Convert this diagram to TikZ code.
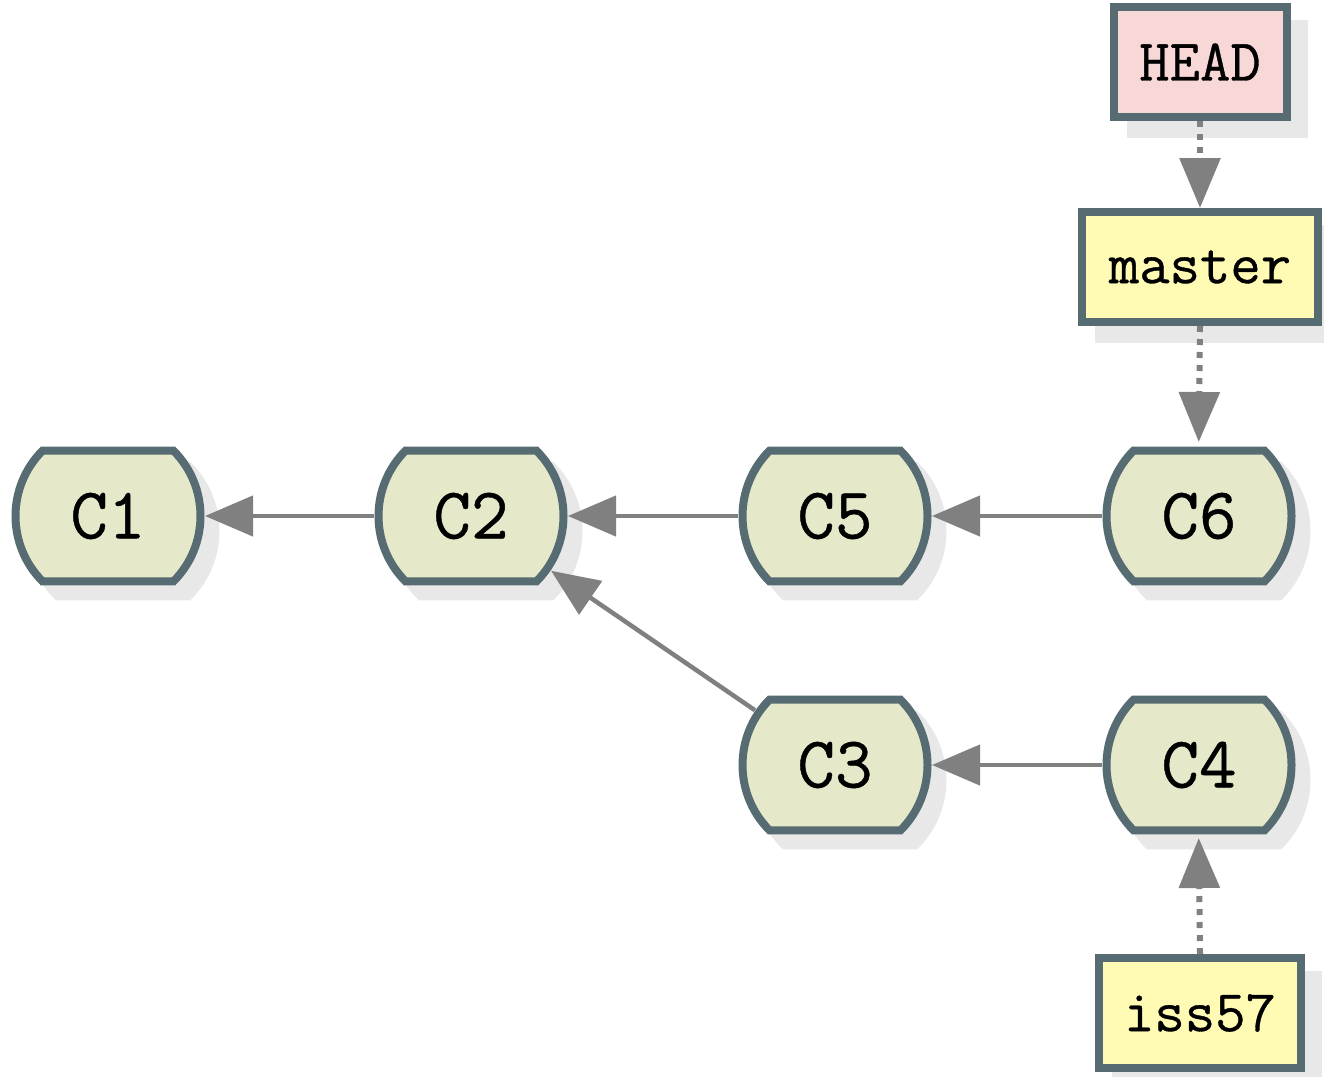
\documentclass[tikz,border=0pt]{standalone}
\usepackage{fontspec}
\newfontfamily\labeltt[FakeBold=0.6]{Latin Modern Mono}
\usetikzlibrary{arrows.meta,calc,backgrounds}
\definecolor{commitfill}{HTML}{E5E9CA}
\definecolor{bordc}{HTML}{566C72}
\definecolor{headfill}{HTML}{F8D7D7}
\definecolor{branchfill}{HTML}{FFFAB4}
\definecolor{shadowc}{HTML}{E8E8E8}
\definecolor{arrowc}{HTML}{808080}
\tikzset{
  commitnode/.style={circle, minimum size=194pt, inner sep=0pt, outer sep=0pt,
    font=\labeltt\fontsize{73}{73}\selectfont},
  commitdraw/.style={draw=bordc, fill=commitfill, line width=8pt, line join=miter},
  commitshadow/.style={draw=shadowc, fill=shadowc, line width=8pt, line join=miter},
  refbox/.style={draw=bordc, line width=8pt, minimum height=110pt, inner sep=0pt,
    font=\labeltt\fontsize{59}{59}\selectfont},
  headbox/.style={refbox, fill=headfill, minimum width=173pt},
  branchbox/.style={refbox, fill=branchfill},
  parent/.style={draw=arrowc, line width=4.5pt, -{Stealth[inset=0pt,length=48pt,width=40pt]}},
  pointer/.style={draw=arrowc, line width=6pt, dash pattern=on 6pt off 7pt,
    -{Stealth[inset=0pt,length=50pt,width=40pt]}},
}
\newcommand\commitpath{(-45:92.5) arc[start angle=-45,end angle=45,radius=92.5] -- (135:92.5) arc[start angle=135,end angle=225,radius=92.5] -- cycle}
\newcommand\mycommit[4]{%
  \begin{scope}[on background layer]
    \path[commitshadow, shift={(#2+15,#3+15)}] \commitpath;
  \end{scope}
  \path[commitdraw, shift={(#2,#3)}] \commitpath;
  \node[commitnode] (#1) at (#2,#3) {#4};
}
\newcommand\myshadow[1]{%
  \begin{scope}[on background layer]
    \fill[shadowc] ($(#1.south west)+(17,17)$) rectangle ($(#1.north east)+(17,17)$);
  \end{scope}
}
\begin{document}
\begin{tikzpicture}[x=1pt,y=-1pt]
\useasboundingbox (0,0) rectangle (1324,1076);
\mycommit{C1}{108}{516}{C1}
\mycommit{C2}{471}{516}{C2}
\mycommit{C5}{835}{516}{C5}
\mycommit{C6}{1199}{516}{C6}
\mycommit{C3}{835}{765}{C3}
\mycommit{C4}{1199}{765}{C4}

\node[headbox] (HEAD) at (1200,62) {HEAD};
\node[branchbox, minimum width=236pt] (master) at (1200,267) {master};
\node[branchbox, minimum width=202pt] (iss57) at (1200,1013) {iss57};
\myshadow{HEAD}
\myshadow{master}
\myshadow{iss57}

\draw[parent] (C2) -- (C1);
\draw[parent] (C5) -- (C2);
\draw[parent] (C6) -- (C5);
\draw[parent] (C4) -- (C3);
\draw[parent] (C3) -- (C2);

\draw[pointer] (HEAD.south) -- (master.north);
\draw[pointer, shorten >=-23pt] (master.south) -- (C6.north);
\draw[pointer, shorten >=-24pt] (iss57.north) -- (C4.south);
\end{tikzpicture}
\end{document}
